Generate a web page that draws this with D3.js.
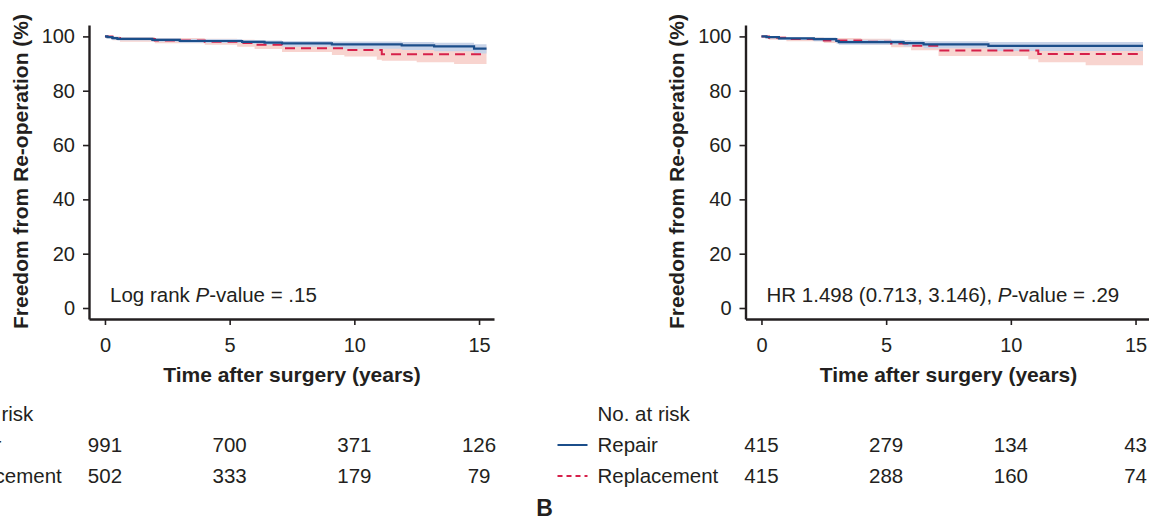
<!DOCTYPE html>
<html>
<head>
<meta charset="utf-8">
<script src="https://cdn.jsdelivr.net/npm/d3@7"></script>
<style>
    html, body { margin: 0; padding: 0; background: #fff; }
    svg { display: block; }
</style>
</head>
<body>
<div id="chart"></div>
<script>
// Axis ticks
var timeTicks = [0, 5, 10, 15];
var survTicks = [0, 20, 40, 60, 80, 100];
var groupNames = ["Repair", "Replacement"];

// Panel A curves: [years, freedom %, lower CI, upper CI]
var repairA = [
    [0, 100, 100, 100], [0.1, 99.7, 99.3, 100], [0.3, 99.4, 98.8, 99.9],
    [0.5, 99.1, 98.5, 99.6], [1.9, 98.7, 98.0, 99.3], [3.0, 98.3, 97.6, 99.0],
    [5.5, 98.0, 97.2, 98.7], [6.4, 97.7, 96.8, 98.5], [7.1, 97.4, 96.2, 98.3],
    [9.1, 97.1, 95.5, 98.1], [11.9, 96.7, 95.0, 97.9], [13.2, 96.3, 94.5, 97.7],
    [14.8, 95.5, 93.7, 97.1], [15.3, 95.5, 93.7, 97.1]
];
var replaceA = [
    [0, 100, 100, 100], [0.3, 99.4, 98.6, 100], [0.6, 99.0, 98.0, 99.8],
    [2.0, 98.5, 97.5, 99.4], [4.0, 98.0, 96.9, 99.1], [5.3, 97.6, 96.2, 98.8],
    [6.0, 96.9, 95.4, 98.3], [7.1, 95.6, 94.3, 97.6], [9.1, 95.6, 93.2, 97.4],
    [9.6, 95.0, 92.6, 97.2], [10.9, 95.0, 91.4, 97.2], [11.1, 93.4, 91.0, 96.2],
    [12.5, 93.4, 90.5, 96.3], [14.0, 93.4, 89.8, 96.4], [15.3, 93.4, 89.1, 96.5]
];

// Panel B curves
var repairB = [
    [0, 100, 100, 100], [0.2, 99.7, 99.3, 100], [0.7, 99.3, 98.7, 99.8],
    [2.1, 99.0, 98.2, 99.6], [3.0, 98.3, 97.4, 99.1], [3.1, 97.9, 96.9, 98.8],
    [5.7, 97.5, 96.3, 98.5], [6.5, 97.1, 95.6, 98.2], [9.1, 96.5, 94.6, 97.9],
    [15.3, 96.5, 94.6, 97.9]
];
var replaceB = [
    [0, 100, 100, 100], [0.3, 99.5, 98.8, 100], [1.0, 99.0, 98.2, 99.7],
    [2.5, 98.5, 97.6, 99.4], [4.0, 98.0, 96.9, 99.1], [5.2, 97.4, 96.0, 98.7],
    [6.0, 96.6, 94.9, 98.1], [7.1, 94.8, 92.8, 96.8], [10.7, 94.8, 91.6, 96.8],
    [11.1, 93.5, 90.5, 96.0], [13.0, 93.5, 89.4, 96.0], [15.3, 93.5, 88.3, 96.0]
];

// Numbers at risk at 0, 5, 10, 15 years
var riskRepairA = [991, 700, 371, 126];
var riskReplaceA = [502, 333, 179, 79];
var riskRepairB = [415, 279, 134, 43];
var riskReplaceB = [415, 288, 160, 74];

// Annotation text, middle piece is italic
var noteA = ["Log rank ", "P", "-value = .15"];
var noteB = ["HR 1.498 (0.713, 3.146), ", "P", "-value = .29"];

var kmChart = {};

(function (self) {
    var ink = "#231f20",
        blue = "#1b4e8a",
        red = "#d6204a",
        blueBand = "#c8d3e8",
        redBand = "#f8d4cf",
        font = "'Liberation Sans', Arial, Helvetica, sans-serif";

    self.init = function (target) {
        var svg = d3.select(target).append("svg")
            .attr("width", 1149)
            .attr("height", 521)
            .attr("font-family", font);

        self.drawPanel(svg, 89, repairA, replaceA, riskRepairA, riskReplaceA, noteA, null);
        self.drawPanel(svg, 745.5, repairB, replaceB, riskRepairB, riskReplaceB, noteB, "B");
    };

    // one survival panel, left edge = y axis position
    self.drawPanel = function (svg, left, repair, replace, riskRep, riskRepl, note, label) {
        var g = svg.append("g").attr("transform", "translate(" + left + ",0)");

        var x = d3.scaleLinear().domain([-0.64, 15.6]).range([0, 405]);
        var y = d3.scaleLinear().domain([-4.05, 104.2]).range([319, 25]);

        var band = d3.area()
            .x(d => x(d[0]))
            .y0(d => y(d[2]))
            .y1(d => y(d[3]))
            .curve(d3.curveStepAfter);
        var line = d3.line()
            .x(d => x(d[0]))
            .y(d => y(d[1]))
            .curve(d3.curveStepAfter);

        // CI bands first, then lines
        g.append("path").attr("d", band(replace)).attr("fill", redBand);
        g.append("path").attr("d", band(repair)).attr("fill", blueBand);
        g.append("path").attr("d", line(replace))
            .attr("fill", "none").attr("stroke", red)
            .attr("stroke-width", 2).attr("stroke-dasharray", "10,6");
        g.append("path").attr("d", line(repair))
            .attr("fill", "none").attr("stroke", blue)
            .attr("stroke-width", 2.2);

        // axes
        var xAxis = g.append("g")
            .attr("transform", "translate(0,319)")
            .call(d3.axisBottom(x).tickValues(timeTicks).tickSize(6).tickSizeOuter(0).tickPadding(13));
        var yAxis = g.append("g")
            .call(d3.axisLeft(y).tickValues(survTicks).tickSize(6).tickSizeOuter(0).tickPadding(8));
        [xAxis, yAxis].forEach(ax => {
            ax.attr("font-family", font).attr("font-size", null);
            ax.select(".domain").attr("stroke", ink).attr("stroke-width", 2.4);
            ax.selectAll(".tick line").attr("stroke", ink).attr("stroke-width", 1.6);
            ax.selectAll(".tick text").attr("fill", ink).style("font-size", "20px");
        });

        // axis titles
        g.append("text")
            .attr("x", x(7.5)).attr("y", 375).attr("dy", "0.35em")
            .attr("text-anchor", "middle")
            .attr("font-weight", "bold").attr("font-size", "21px").attr("fill", ink)
            .text("Time after surgery (years)");
        g.append("text")
            .attr("transform", "translate(-68.5,171.5) rotate(-90)")
            .attr("dy", "0.35em")
            .attr("text-anchor", "middle")
            .attr("font-weight", "bold").attr("font-size", "21px").attr("fill", ink)
            .text("Freedom from Re-operation (%)");

        // annotation
        var t = g.append("text")
            .attr("x", 21).attr("y", 301.5)
            .attr("font-size", "20.5px").attr("fill", ink);
        note.forEach((part, i) => {
            t.append("tspan").attr("font-style", i === 1 ? "italic" : null).text(part);
        });

        // number at risk table
        var rowY = [414, 445, 476];
        g.append("text")
            .attr("x", -148).attr("y", rowY[0]).attr("dy", "0.35em")
            .attr("font-size", "20.5px").attr("fill", ink)
            .text("No. at risk");
        [riskRep, riskRepl].forEach((counts, r) => {
            var yy = rowY[r + 1];
            g.append("line")
                .attr("x1", -188).attr("x2", -158)
                .attr("y1", yy).attr("y2", yy)
                .attr("stroke", r === 0 ? blue : red)
                .attr("stroke-width", 2)
                .attr("stroke-dasharray", r === 0 ? null : "5,4");
            g.append("text")
                .attr("x", -148).attr("y", yy).attr("dy", "0.35em")
                .attr("font-size", "20.5px").attr("fill", ink)
                .text(groupNames[r]);
            g.selectAll(null).data(counts).enter().append("text")
                .attr("x", (d, i) => x(timeTicks[i]))
                .attr("y", yy).attr("dy", "0.35em")
                .attr("text-anchor", "middle")
                .attr("font-size", "20.5px").attr("fill", ink)
                .text(d => d);
        });

        if (label) {
            g.append("text")
                .attr("x", -201).attr("y", 508).attr("dy", "0.35em")
                .attr("text-anchor", "middle")
                .attr("font-weight", "bold").attr("font-size", "23px").attr("fill", ink)
                .text(label);
        }
    };
})(kmChart);

kmChart.init("#chart");
</script>
</body>
</html>
